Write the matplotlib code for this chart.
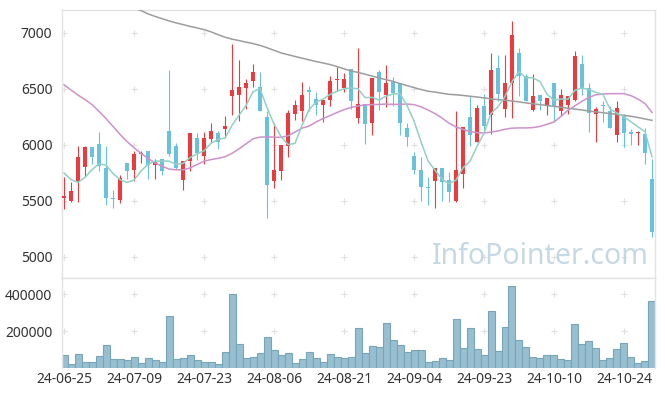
import matplotlib
matplotlib.use("Agg")
import matplotlib.pyplot as plt
import numpy as np

plt.rcParams['font.family'] = ['Noto Sans', 'DejaVu Sans']

dates = ["24-06-25","24-06-26","24-06-27","24-06-28","24-07-01","24-07-02","24-07-03","24-07-04","24-07-05","24-07-08",
         "24-07-09","24-07-10","24-07-11","24-07-12","24-07-15","24-07-16","24-07-17","24-07-18","24-07-19","24-07-22",
         "24-07-23","24-07-24","24-07-25","24-07-26","24-07-29","24-07-30","24-07-31","24-08-01","24-08-02","24-08-05",
         "24-08-06","24-08-07","24-08-08","24-08-09","24-08-12","24-08-13","24-08-14","24-08-16","24-08-19","24-08-20",
         "24-08-21","24-08-22","24-08-23","24-08-26","24-08-27","24-08-28","24-08-29","24-08-30","24-09-02","24-09-03",
         "24-09-04","24-09-05","24-09-06","24-09-09","24-09-10","24-09-11","24-09-12","24-09-13","24-09-19","24-09-20",
         "24-09-23","24-09-24","24-09-25","24-09-26","24-09-27","24-09-30","24-10-02","24-10-04","24-10-07","24-10-08",
         "24-10-10","24-10-11","24-10-14","24-10-15","24-10-16","24-10-17","24-10-18","24-10-21","24-10-22","24-10-23",
         "24-10-24","24-10-25","24-10-28","24-10-29","24-10-30"]

opens = [5530,5500,5665,5805,5980,6010,5795,5530,5510,5840,
         5775,5915,5950,5820,5875,6125,5995,5690,5855,6060,
         5905,6055,6110,6145,6435,6445,6505,6575,6515,6250,
         5675,5770,5990,6280,6300,6495,6410,6355,6405,6578,
         6505,6680,6245,6365,6195,6655,6445,6560,6555,6150,
         5905,5780,5625,5675,5790,5685,5500,5745,6250,6030,
         6350,6265,6685,6325,6555,6820,6620,6310,6450,6345,
         6555,6300,6360,6400,6725,6510,6280,6355,6300,6090,
         6260,6120,6105,6100,5700]
highs = [5710,5670,5990,5990,5985,6115,5990,5595,5730,5842,
         5950,5945,5950,5875,5875,6670,6020,5860,6107,6105,
         6115,6195,6125,6255,6900,6760,6585,6725,6655,6300,
         6195,6000,6315,6405,6560,6525,6475,6405,6620,6695,
         6640,6680,6865,6365,6600,6665,6715,6610,6555,6200,
         5935,5890,5715,5790,5790,5760,6300,6160,6440,6360,
         6455,6825,6805,6805,7105,6865,6635,6635,6450,6420,
         6555,6500,6435,6840,6800,6555,6340,6395,6345,6395,
         6280,6140,6128,6150,5875]
lows = [5430,5490,5490,5710,5830,5770,5460,5440,5480,5700,
        5675,5840,5700,5700,5730,5900,5785,5600,5765,5870,
        5830,6030,5960,6060,6270,6210,6320,6520,6305,5345,
        5620,5685,5890,6225,6215,6305,6270,6205,6350,6480,
        6470,6325,6195,6010,6090,6310,6335,6345,6090,5990,
        5745,5500,5465,5435,5500,5495,5495,5615,5995,6030,
        6105,6100,6395,6250,6245,6435,6390,6305,6310,6270,
        6205,6255,6275,6395,6450,6115,6025,6205,6150,6025,
        5980,6000,6000,5830,5175]
closes = [5545,5590,5890,5980,5890,5810,5530,5515,5705,5765,
          5920,5930,5820,5845,5765,5920,5790,5855,6105,5930,
          6060,6125,6025,6170,6495,6515,6550,6650,6305,5645,
          5780,6000,6285,6360,6450,6470,6355,6405,6575,6592,
          6585,6390,6365,6185,6600,6470,6555,6465,6200,6075,
          5775,5625,5612,5790,5670,5580,5780,6160,6085,6330,
          6165,6665,6455,6553,6985,6615,6395,6440,6395,6420,
          6345,6450,6435,6795,6510,6285,6320,6345,6150,6330,
          6110,6100,6120,5930,5220]
volumes = [70000,21600,75700,34000,34000,66500,124000,50000,50000,45000,
           61000,28600,55700,45000,34000,283000,50000,55700,72000,45000,
           34000,34000,23000,88000,402000,131000,55700,61000,83000,169000,
           99000,70000,83000,28600,50000,88000,55700,34000,77000,61000,
           55700,61000,218000,83000,120000,115000,245000,153000,126000,88000,
           99000,99000,34000,39500,55700,45000,266000,110000,218000,104000,
           72000,310000,93500,223000,445000,153000,115000,61000,55700,72000,
           72000,50000,45000,239000,131000,148000,110000,45000,55700,104000,
           137000,61000,28600,39500,364000]
ma5 = [5749,5690,5666,5711,5779,5832,5820,5745,5690,5665,
       5687,5767,5828,5856,5856,5856,5828,5835,5887,5920,
       5948,6015,6049,6062,6175,6266,6351,6476,6503,6333,
       6186,6076,6003,6014,6175,6313,6384,6408,6451,6479,
       6502,6509,6501,6423,6425,6402,6435,6455,6458,6353,
       6214,6028,5857,5775,5694,5655,5686,5796,5855,5987,
       6104,6281,6340,6434,6565,6655,6601,6598,6566,6453,
       6399,6410,6409,6489,6507,6495,6469,6451,6322,6286,
       6251,6207,6162,6118,5896]
ma20 = [6538,6490,6445,6405,6360,6300,6235,6165,6095,6030,
        5975,5925,5880,5840,5810,5785,5778,5778,5795,5825,
        5855,5870,5880,5895,5925,5965,6010,6055,6070,6072,
        6070,6068,6082,6115,6150,6168,6205,6235,6262,6290,
        6315,6335,6348,6358,6360,6362,6365,6362,6363,6365,
        6360,6340,6312,6280,6240,6195,6160,6140,6120,6110,
        6107,6115,6125,6140,6150,6152,6152,6155,6165,6185,
        6205,6255,6310,6350,6390,6425,6448,6455,6458,6458,
        6458,6440,6410,6370,6290]
ma60 = [7420,7400,7380,7360,7340,7320,7298,7276,7255,7236,
        7220,7200,7170,7148,7128,7108,7090,7075,7059,7045,
        7030,7010,6985,6962,6945,6932,6918,6905,6889,6868,
        6845,6822,6806,6790,6775,6760,6745,6732,6718,6700,
        6680,6660,6648,6632,6615,6598,6583,6568,6548,6530,
        6512,6495,6480,6472,6462,6452,6448,6442,6435,6428,
        6420,6412,6405,6398,6392,6385,6375,6368,6360,6352,
        6345,6337,6328,6320,6312,6303,6295,6288,6280,6272,
        6264,6256,6245,6232,6220]

price_ticks = [5000, 5500, 6000, 6500, 7000]
vol_ticks = [200000, 400000]
tick_step = 10

RED = '#ec3a3f'
BLUE = '#68c2db'
GRID = '#e0e0e0'
SPINE = '#e3e3e3'
TXT = '#333333'

fig = plt.figure(figsize=(6.65, 3.96), dpi=100)
ax = fig.add_axes([62/665, 1-278/396, (655-62)/665, (278-10)/396])
axv = fig.add_axes([62/665, 1-368/396, (655-62)/665, (368-278)/396], sharex=ax)

n = len(closes)
x = np.arange(n)
o = np.array(opens, float); c = np.array(closes, float)
h = np.array(highs, float); l = np.array(lows, float)
up = c >= o
cols = np.where(up, RED, BLUE)

xt = list(range(0, n, tick_step))

# grid crosses
gx, gy = np.meshgrid(xt, price_ticks)
ax.scatter(gx.ravel(), gy.ravel(), marker='+', s=14, c=GRID, linewidths=0.8, zorder=0)
gx2, gy2 = np.meshgrid(xt, vol_ticks)
axv.scatter(gx2.ravel(), gy2.ravel(), marker='+', s=14, c=GRID, linewidths=0.8, zorder=0)

ax.vlines(x, l, h, colors=cols, linewidth=0.8, zorder=2)
body_bot = np.minimum(o, c)
body_h = np.maximum(np.abs(c - o), 12)
ax.bar(x, body_h, bottom=body_bot, width=0.7, color=cols, linewidth=0, zorder=3)

ax.plot(x, ma60, color='#9d9d9d', lw=1.1, zorder=4)
ax.plot(x, ma20, color='#cd92ca', lw=1.1, zorder=4)
ax.plot(x, ma5, color='#93d0c6', lw=1.1, zorder=4)

ax.set_xlim(-0.29, 84.43)
ax.set_ylim(4812, 7205)
ax.set_yticks(price_ticks)
ax.set_yticklabels([str(v) for v in price_ticks])
ax.tick_params(axis='y', length=0, pad=7, labelsize=10, labelcolor=TXT)
ax.tick_params(axis='x', length=0, labelbottom=False)
for s in ax.spines.values():
    s.set_color(SPINE); s.set_linewidth(1.0)

ax.text(0.806, 0.082, 'InfoPointer.com', transform=ax.transAxes, ha='center', va='center',
        fontsize=20.5, color='#bcd2de', alpha=0.85, zorder=5)

axv.bar(x, volumes, width=1.0, color='#97bfd0', edgecolor='#78a5ba', linewidth=0.8, zorder=2)
axv.set_ylim(0, 488000)
axv.set_yticks(vol_ticks)
axv.set_yticklabels([str(v) for v in vol_ticks])
axv.set_xticks(xt)
axv.set_xticklabels([dates[i] for i in xt])
axv.tick_params(axis='y', length=0, pad=7, labelsize=10, labelcolor=TXT)
axv.tick_params(axis='x', length=0, pad=3, labelsize=10, labelcolor=TXT)
for k, s in axv.spines.items():
    s.set_color(SPINE); s.set_linewidth(1.0)
axv.spines['bottom'].set_visible(False)

fig.savefig('out.png', dpi=100)
